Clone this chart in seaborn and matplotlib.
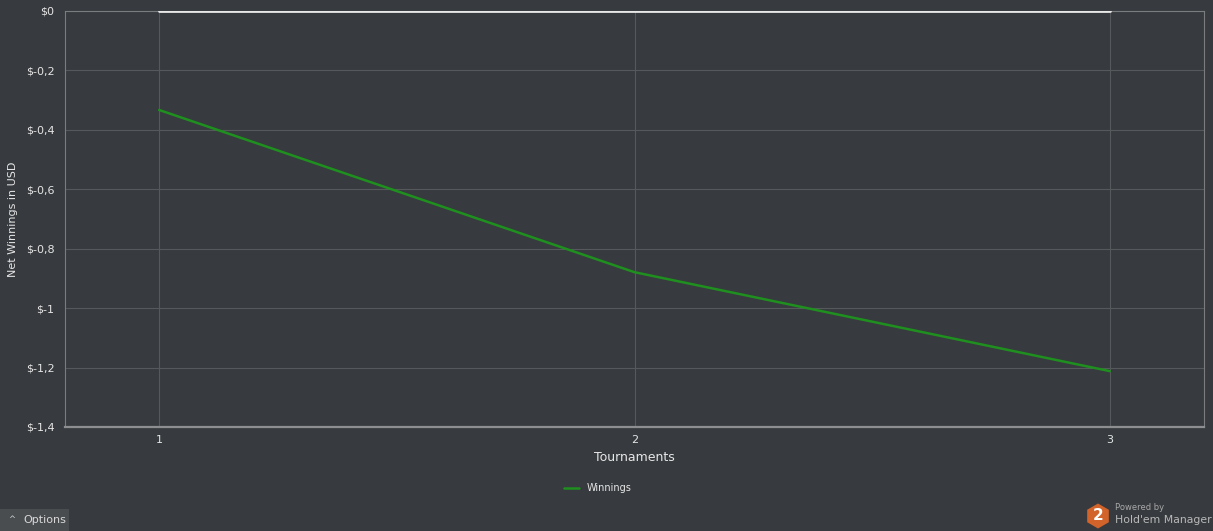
import numpy as np
import pandas as pd
import matplotlib as mpl
mpl.use("Agg")
import matplotlib.pyplot as plt
import seaborn as sns
from matplotlib.patches import RegularPolygon, Rectangle

# datos
torneos = [1, 2, 3]
ganancias = [-0.333, -0.879, -1.212]
linea_cero = [0, 0, 0]
y_ticks = [0, -0.2, -0.4, -0.6, -0.8, -1.0, -1.2, -1.4]
y_labels = ["$0", "$-0,2", "$-0,4", "$-0,6", "$-0,8", "$-1", "$-1,2", "$-1,4"]

fondo = "#373a3e"
sns.set_style("dark")
plt.rcParams['font.family'] = ['DejaVu Sans']

df = pd.DataFrame({"Tournaments": torneos, "Winnings": ganancias, "Zero": linea_cero})

fig = plt.figure(figsize=(12.13, 5.31), dpi=100, facecolor=fondo)
ax = fig.add_axes([65/1213, 1-427/531, (1204-65)/1213, (427-11)/531])
ax.set_facecolor(fondo)

sns.lineplot(data=df, x="Tournaments", y="Zero", ax=ax, color="#e8e8e8", linewidth=2, zorder=4)
sns.lineplot(data=df, x="Tournaments", y="Winnings", ax=ax, color="#1f8f1f", linewidth=1.8,
             label="Winnings", zorder=5)

ax.set_xlim(0.802, 3.198)
ax.set_ylim(-1.4, 0)
ax.set_xticks(torneos)
ax.set_xticklabels([str(t) for t in torneos])
ax.set_yticks(y_ticks)
ax.set_yticklabels(y_labels)
ax.grid(True, color="#56595c", linewidth=0.8)
ax.tick_params(colors="#888888", labelcolor="#e6e6e6", labelsize=8, length=4, width=0.8)
ax.tick_params(axis="x", pad=2)
for lado in ["top", "right", "left"]:
    ax.spines[lado].set_color("#7a7c7e")
    ax.spines[lado].set_linewidth(0.8)
ax.spines["bottom"].set_color("#8c8e90")
ax.spines["bottom"].set_linewidth(1.6)

ax.set_xlabel("Tournaments", color="#e6e6e6", fontsize=9, labelpad=4)
ax.set_ylabel("Net Winnings in USD", color="#e6e6e6", fontsize=8, labelpad=6)

leg = ax.legend(loc="center", bbox_to_anchor=(0.468, -0.147), frameon=False, fontsize=7,
                handlelength=1.5, labelcolor="#e6e6e6")

# boton de opciones
fig.patches.append(Rectangle((0, 0), 69/1213, 22/531, transform=fig.transFigure,
                             facecolor="#4a4d50", edgecolor="none"))
fig.text(8/1213, 11/531, "^", color="#d0d0d0", fontsize=6, va="center")
fig.text(23/1213, 11/531, "Options", color="#d8d8d8", fontsize=8, va="center")

# logo
fig.patches.append(RegularPolygon((10.98, 0.15), numVertices=6, radius=0.125,
                                  orientation=0, transform=fig.dpi_scale_trans,
                                  facecolor="#d2632a", edgecolor="none"))
fig.text(1098/1213, 15/531, "2", color="white", fontsize=11, fontweight="bold",
         ha="center", va="center")
fig.text(1115/1213, 23/531, "Powered by", color="#a8a8a8", fontsize=6, va="center")
fig.text(1115/1213, 11/531, "Hold'em Manager", color="#b8b8b8", fontsize=7.8, va="center")

fig.savefig("out.png", dpi=100, facecolor=fondo)
